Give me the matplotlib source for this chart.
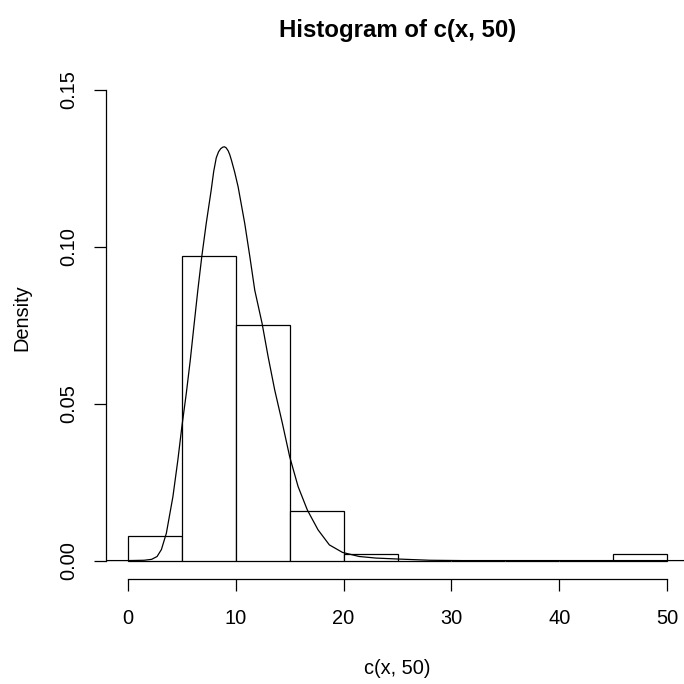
import matplotlib
matplotlib.use("Agg")
import matplotlib.pyplot as plt
import numpy as np

# histogram of c(x, 50): 101 values, breaks every 5
bin_edges = [0, 5, 10, 15, 20, 25, 30, 35, 40, 45, 50]
bin_counts = [4, 49, 38, 8, 1, 0, 0, 0, 0, 1]
n_total = 101

# overlaid density curve
curve_x = [-2, 0, 1.5, 2.2, 2.7, 3.1, 3.56, 4.17, 4.63, 5.0, 5.41, 5.78, 6.11,
           6.48, 6.85, 7.26, 7.72, 7.95, 8.19, 8.4, 8.6, 8.8, 8.95, 9.1, 9.3,
           9.45, 9.6, 9.9, 10.22, 10.83, 11.3, 11.76, 12.44, 13.0, 13.61,
           14.32, 15.0, 15.78, 16.64, 17.63, 18.68, 19.9, 21.45, 23.0, 25.0,
           28.0, 31.0, 52]
curve_y = [0, 0, 0.0001, 0.0004, 0.0013, 0.0035, 0.0087, 0.0204, 0.0321,
           0.0427, 0.0533, 0.0639, 0.0745, 0.0862, 0.0970, 0.1075, 0.1181,
           0.1240, 0.1284, 0.1303, 0.1313, 0.1318, 0.1319, 0.1316, 0.1306,
           0.1293, 0.1276, 0.1238, 0.1191, 0.1075, 0.0970, 0.0862, 0.0756,
           0.0650, 0.0544, 0.0438, 0.0331, 0.0236, 0.0161, 0.0098, 0.0050,
           0.0026, 0.0013, 0.0008, 0.0005, 0.0001, 0.0, 0]

x_ticks = [0, 10, 20, 30, 40, 50]
y_ticks = [0.00, 0.05, 0.10, 0.15]

plt.rcParams['font.family'] = ['Liberation Sans', 'DejaVu Sans']

W = 684.0
fig = plt.figure(figsize=(6.84, 6.84), dpi=100)
ax = fig.add_axes([106.4 / W, (W - 579.4) / W, 582.2 / W, (579.4 - 71.2) / W])
ax.set_xlim(-2, 52)
ax.set_ylim(-0.006, 0.156)

widths = np.diff(bin_edges)
density = np.array(bin_counts) / (n_total * widths)
ax.bar(bin_edges[:-1], density, width=widths, align='edge',
       facecolor='white', edgecolor='black', linewidth=0.9)

ax.plot(curve_x, curve_y, color='black', linewidth=0.9,
        solid_joinstyle='round')

# R style axes: lines only between first and last tick
for side in ['top', 'right']:
    ax.spines[side].set_visible(False)
ax.spines['left'].set_bounds(0, 0.15)
ax.spines['bottom'].set_bounds(0, 50)
ax.spines['left'].set_linewidth(0.9)
ax.spines['bottom'].set_linewidth(0.9)

ax.set_xticks(x_ticks)
ax.set_xticklabels([str(t) for t in x_ticks])
ax.set_yticks(y_ticks)
ax.set_yticklabels(['%.2f' % t for t in y_ticks], rotation=90, va='center')
ax.tick_params(axis='both', direction='out', length=8.5, width=0.9,
               labelsize=14.4)
ax.tick_params(axis='x', pad=13)
ax.tick_params(axis='y', pad=12)

fig.text(397.5 / W, 1 - 30 / W, 'Histogram of c(x, 50)', ha='center',
         va='center', fontsize=17.3, fontweight='bold')
fig.text(397.5 / W, 1 - 669 / W, 'c(x, 50)', ha='center', va='center',
         fontsize=14.4)
fig.text(22 / W, 1 - 318 / W, 'Density', ha='center', va='center',
         rotation=90, fontsize=14.4)

fig.savefig('out.png', dpi=100, facecolor='white')
